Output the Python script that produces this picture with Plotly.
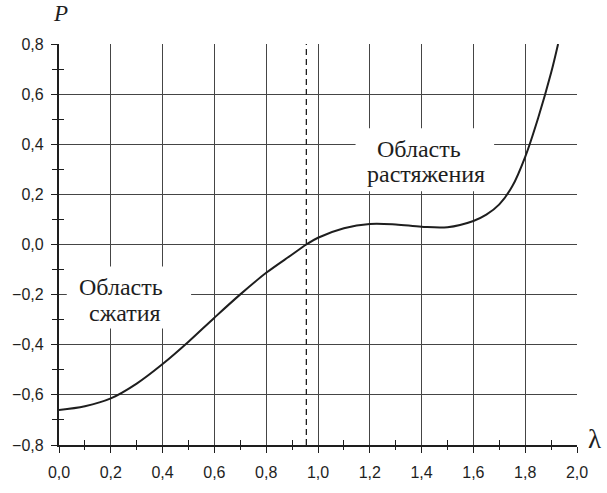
import plotly.graph_objects as go

# Load characteristic P(λ)
lam = [0.0, 0.1, 0.2, 0.3, 0.4, 0.5, 0.6, 0.7, 0.8, 0.9, 0.955, 1.0, 1.1, 1.2,
       1.3, 1.4, 1.5, 1.6, 1.65, 1.7, 1.75, 1.8, 1.85, 1.9, 1.927]
P = [-0.660, -0.645, -0.614, -0.555, -0.477, -0.388, -0.292, -0.199, -0.113,
     -0.040, 0.0, 0.027, 0.065, 0.082, 0.080, 0.071, 0.069, 0.094, 0.119,
     0.160, 0.232, 0.350, 0.505, 0.685, 0.80]

lambda_zero = 0.955          # boundary between compression and tension
x_ticks = [0.0, 0.2, 0.4, 0.6, 0.8, 1.0, 1.2, 1.4, 1.6, 1.8, 2.0]
y_ticks = [-0.8, -0.6, -0.4, -0.2, 0.0, 0.2, 0.4, 0.6, 0.8]
x_odd_tenths = [0.1, 0.3, 0.5, 0.7, 0.9, 1.1, 1.3, 1.5, 1.7, 1.9]
y_odd_tenths = [-0.7, -0.5, -0.3, -0.1, 0.1, 0.3, 0.5, 0.7]

label_compression = ["Область", "сжатия"]
label_tension = ["Область", "растяжения"]

INK = "#1e1e1e"
GRID = "#454545"
SERIF = "Liberation Serif, serif"
SANS = "Liberation Sans, sans-serif"

fig = go.Figure()

# dashed vertical marker at the zero crossing
fig.add_trace(go.Scatter(
    x=[lambda_zero, lambda_zero], y=[y_ticks[0], y_ticks[-1]],
    mode="lines", line=dict(color=INK, width=1.3, dash="6px,4px"),
    hoverinfo="skip", showlegend=False))

fig.add_trace(go.Scatter(
    x=lam, y=P, mode="lines",
    line=dict(color=INK, width=2, shape="spline", smoothing=1.0),
    showlegend=False))

# invisible trace on overlay axes so the inner tick marks get drawn
fig.add_trace(go.Scatter(x=[x_ticks[0]], y=[y_ticks[0]], xaxis="x2", yaxis="y2",
                         mode="markers", marker=dict(opacity=0),
                         hoverinfo="skip", showlegend=False))

fig.update_layout(
    width=607, height=493,
    margin=dict(l=54, r=30, t=44, b=33),
    paper_bgcolor="white", plot_bgcolor="white",
    separators=", ",
    xaxis=dict(
        range=[0, 2.0], tickvals=x_ticks, tickformat=".1f",
        ticks="outside", ticklen=6, tickwidth=1.3, tickcolor=INK,
        minor=dict(tickvals=x_odd_tenths, ticks="outside", ticklen=3,
                   tickwidth=1.3, tickcolor=INK, showgrid=False),
        showgrid=True, gridcolor=GRID, gridwidth=1,
        showline=True, linecolor=INK, linewidth=2, zeroline=False,
        tickfont=dict(family=SANS, size=16, color=INK),
        ticklabelstandoff=6,
    ),
    yaxis=dict(
        range=[-0.8, 0.8], tickvals=y_ticks, tickformat=".1f",
        ticks="outside", ticklen=6, tickwidth=1.3, tickcolor=INK,
        minor=dict(tickvals=y_odd_tenths, ticks="outside", ticklen=5,
                   tickwidth=1.3, tickcolor=INK, showgrid=False),
        showgrid=True, gridcolor=GRID, gridwidth=1,
        showline=True, linecolor=INK, linewidth=2.2, zeroline=False,
        tickfont=dict(family=SANS, size=16, color=INK),
        ticklabelstandoff=4,
    ),
    xaxis2=dict(
        overlaying="x", matches="x", side="bottom", anchor="y2",
        tickvals=x_odd_tenths, ticks="inside", ticklen=5, tickwidth=1.3,
        tickcolor=INK, showticklabels=False, showgrid=False,
        zeroline=False, showline=False,
    ),
    yaxis2=dict(
        overlaying="y", matches="y", side="left", anchor="x2",
        tickvals=y_odd_tenths, ticks="inside", ticklen=5, tickwidth=1.3,
        tickcolor=INK, showticklabels=False, showgrid=False,
        zeroline=False, showline=False,
    ),
)

# white panels behind the region labels
fig.add_shape(type="rect", xref="x", yref="y", x0=0.03, x1=0.51, y0=-0.335, y1=-0.088,
              fillcolor="white", line=dict(width=0), layer="above")
fig.add_shape(type="rect", xref="x", yref="y", x0=1.145, x1=1.68, y0=0.212, y1=0.464,
              fillcolor="white", line=dict(width=0), layer="above")

text_font = dict(family=SERIF, size=24, color=INK)
fig.add_annotation(x=0.241, y=-0.170, xref="x", yref="y", text=label_compression[0],
                   showarrow=False, font=text_font)
fig.add_annotation(x=0.256, y=-0.272, xref="x", yref="y", text=label_compression[1],
                   showarrow=False, font=text_font)
fig.add_annotation(x=1.391, y=0.381, xref="x", yref="y", text=label_tension[0],
                   showarrow=False, font=text_font)
fig.add_annotation(x=1.417, y=0.280, xref="x", yref="y", text=label_tension[1],
                   showarrow=False, font=text_font)

# axis symbols
fig.add_annotation(x=0.0, y=1.0, xref="x domain", yref="paper", text="<i>P</i>",
                   showarrow=False, xanchor="center", yanchor="bottom", xshift=1, yshift=16,
                   font=dict(family=SERIF, size=23, color=INK))
fig.add_annotation(x=1.0, y=0.0, xref="paper", yref="y domain", text="λ",
                   showarrow=False, xanchor="left", yanchor="middle", xshift=9, yshift=6,
                   font=dict(family=SERIF, size=27, color=INK))

fig.write_html("out.html")
